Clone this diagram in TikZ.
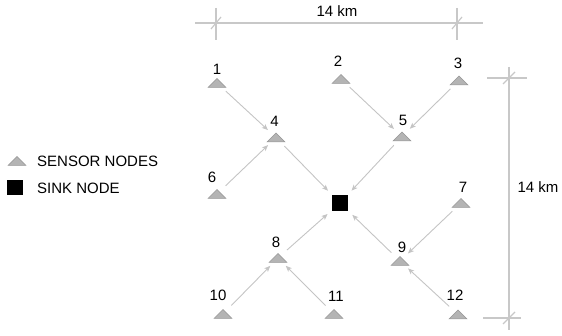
\documentclass[tikz,border=0pt]{standalone}
\usepackage{fontspec}
\setmainfont{Liberation Sans}
\usetikzlibrary{arrows.meta}
\definecolor{linkgray}{RGB}{196,196,196}
\definecolor{dimgray}{RGB}{200,200,200}
\definecolor{trifill}{RGB}{180,180,180}
\definecolor{triedge}{RGB}{150,150,150}

\begin{document}
\begin{tikzpicture}[x=1pt,y=-1pt,
  font=\fontsize{15}{18}\selectfont,
  sensor/.pic={\filldraw[fill=trifill,draw=triedge,line width=0.5pt]
      (-9,4.5) -- (9,4.5) -- (0,-4.5) -- cycle;},
  sinkbox/.style={fill=black, minimum size=15.5pt, inner sep=0pt},
  num/.style={anchor=base, inner sep=0pt},
  legtext/.style={anchor=base west, inner sep=0pt},
  link/.style={draw=linkgray, line width=0.9pt,
      -{Stealth[length=6pt,width=5pt,inset=1.5pt]},
      shorten <=12pt, shorten >=11pt},
  tosink/.style={link, shorten >=6pt},
  dimline/.style={draw=dimgray, line width=1.2pt}]

\useasboundingbox (0,0) rectangle (562,336);

% sensor nodes (triangles) with their numbers
\path (217,83)    coordinate (s1)  pic {sensor};
\path (341,79)    coordinate (s2)  pic {sensor};
\path (459,80.5)  coordinate (s3)  pic {sensor};
\path (276,137.5) coordinate (s4)  pic {sensor};
\path (402,136.5) coordinate (s5)  pic {sensor};
\path (217,194)   coordinate (s6)  pic {sensor};
\path (461,203)   coordinate (s7)  pic {sensor};
\path (278,258)   coordinate (s8)  pic {sensor};
\path (400,261)   coordinate (s9)  pic {sensor};
\path (223,314)   coordinate (s10) pic {sensor};
\path (334,314)   coordinate (s11) pic {sensor};
\path (458,314.5) coordinate (s12) pic {sensor};

\node[num] (l1)  at (217,75)  {1};
\node[num] (l2)  at (338,67)  {2};
\node[num] (l3)  at (458,69)  {3};
\node[num] (l4)  at (274.5,127) {4};
\node[num] (l5)  at (403,126) {5};
\node[num] (l6)  at (212,183) {6};
\node[num] (l7)  at (463,193) {7};
\node[num] (l8)  at (276,248) {8};
\node[num] (l9)  at (402,253) {9};
\node[num] (l10) at (218,301) {10};
\node[num] (l11) at (336,302) {11};
\node[num] (l12) at (455,301) {12};

% sink node
\node[sinkbox] (sink) at (340,203) {};

% routing links
\draw[link] (s1) -- (s4);
\draw[link] (s6) -- (s4);
\draw[link] (s2) -- (s5);
\draw[link] (s3) -- (s5);
\draw[link] (s7) -- (s9);
\draw[link] (s12) -- (s9);
\draw[link] (s10) -- (s8);
\draw[link] (s11) -- (s8);
\draw[tosink] (s4) -- (sink);
\draw[tosink] (s5) -- (sink);
\draw[tosink] (s8) -- (sink);
\draw[tosink] (s9) -- (sink);

% horizontal dimension
\coordinate (ht1) at (216,23);
\coordinate (ht2) at (457,23);
\draw[dimline] (195,23) coordinate (hl) -- (483,23) coordinate (hr);
\draw[dimline] (216,8) -- (216,40);
\draw[dimline] (457,8) -- (457,40);
\draw[dimline] ([shift={(-5,6)}]ht1) -- ([shift={(5,-6)}]ht1);
\draw[dimline] ([shift={(-5,6)}]ht2) -- ([shift={(5,-6)}]ht2);
\node[num] (hkm) at (337,17) {14 km};

% vertical dimension
\coordinate (vt1) at (509,78);
\coordinate (vt2) at (509,318);
\draw[dimline] (509,67) -- (509,330);
\draw[dimline] (487,78) -- (527,78);
\draw[dimline] (483,318) -- (521,318);
\draw[dimline] ([shift={(-6,6)}]vt1) -- ([shift={(6,-6)}]vt1);
\draw[dimline] ([shift={(-6,6)}]vt2) -- ([shift={(6,-6)}]vt2);
\node[num] (vkm) at (538,193) {14 km};

% legend
\path (17,161) coordinate (legs) pic {sensor};
\node[legtext] (legst) at (37,167) {SENSOR NODES};
\node[fill=black, minimum width=16pt, minimum height=15pt, inner sep=0pt] (legk) at (15,187.5) {};
\node[legtext] (legkt) at (37,194) {SINK NODE};
\end{tikzpicture}
\end{document}
